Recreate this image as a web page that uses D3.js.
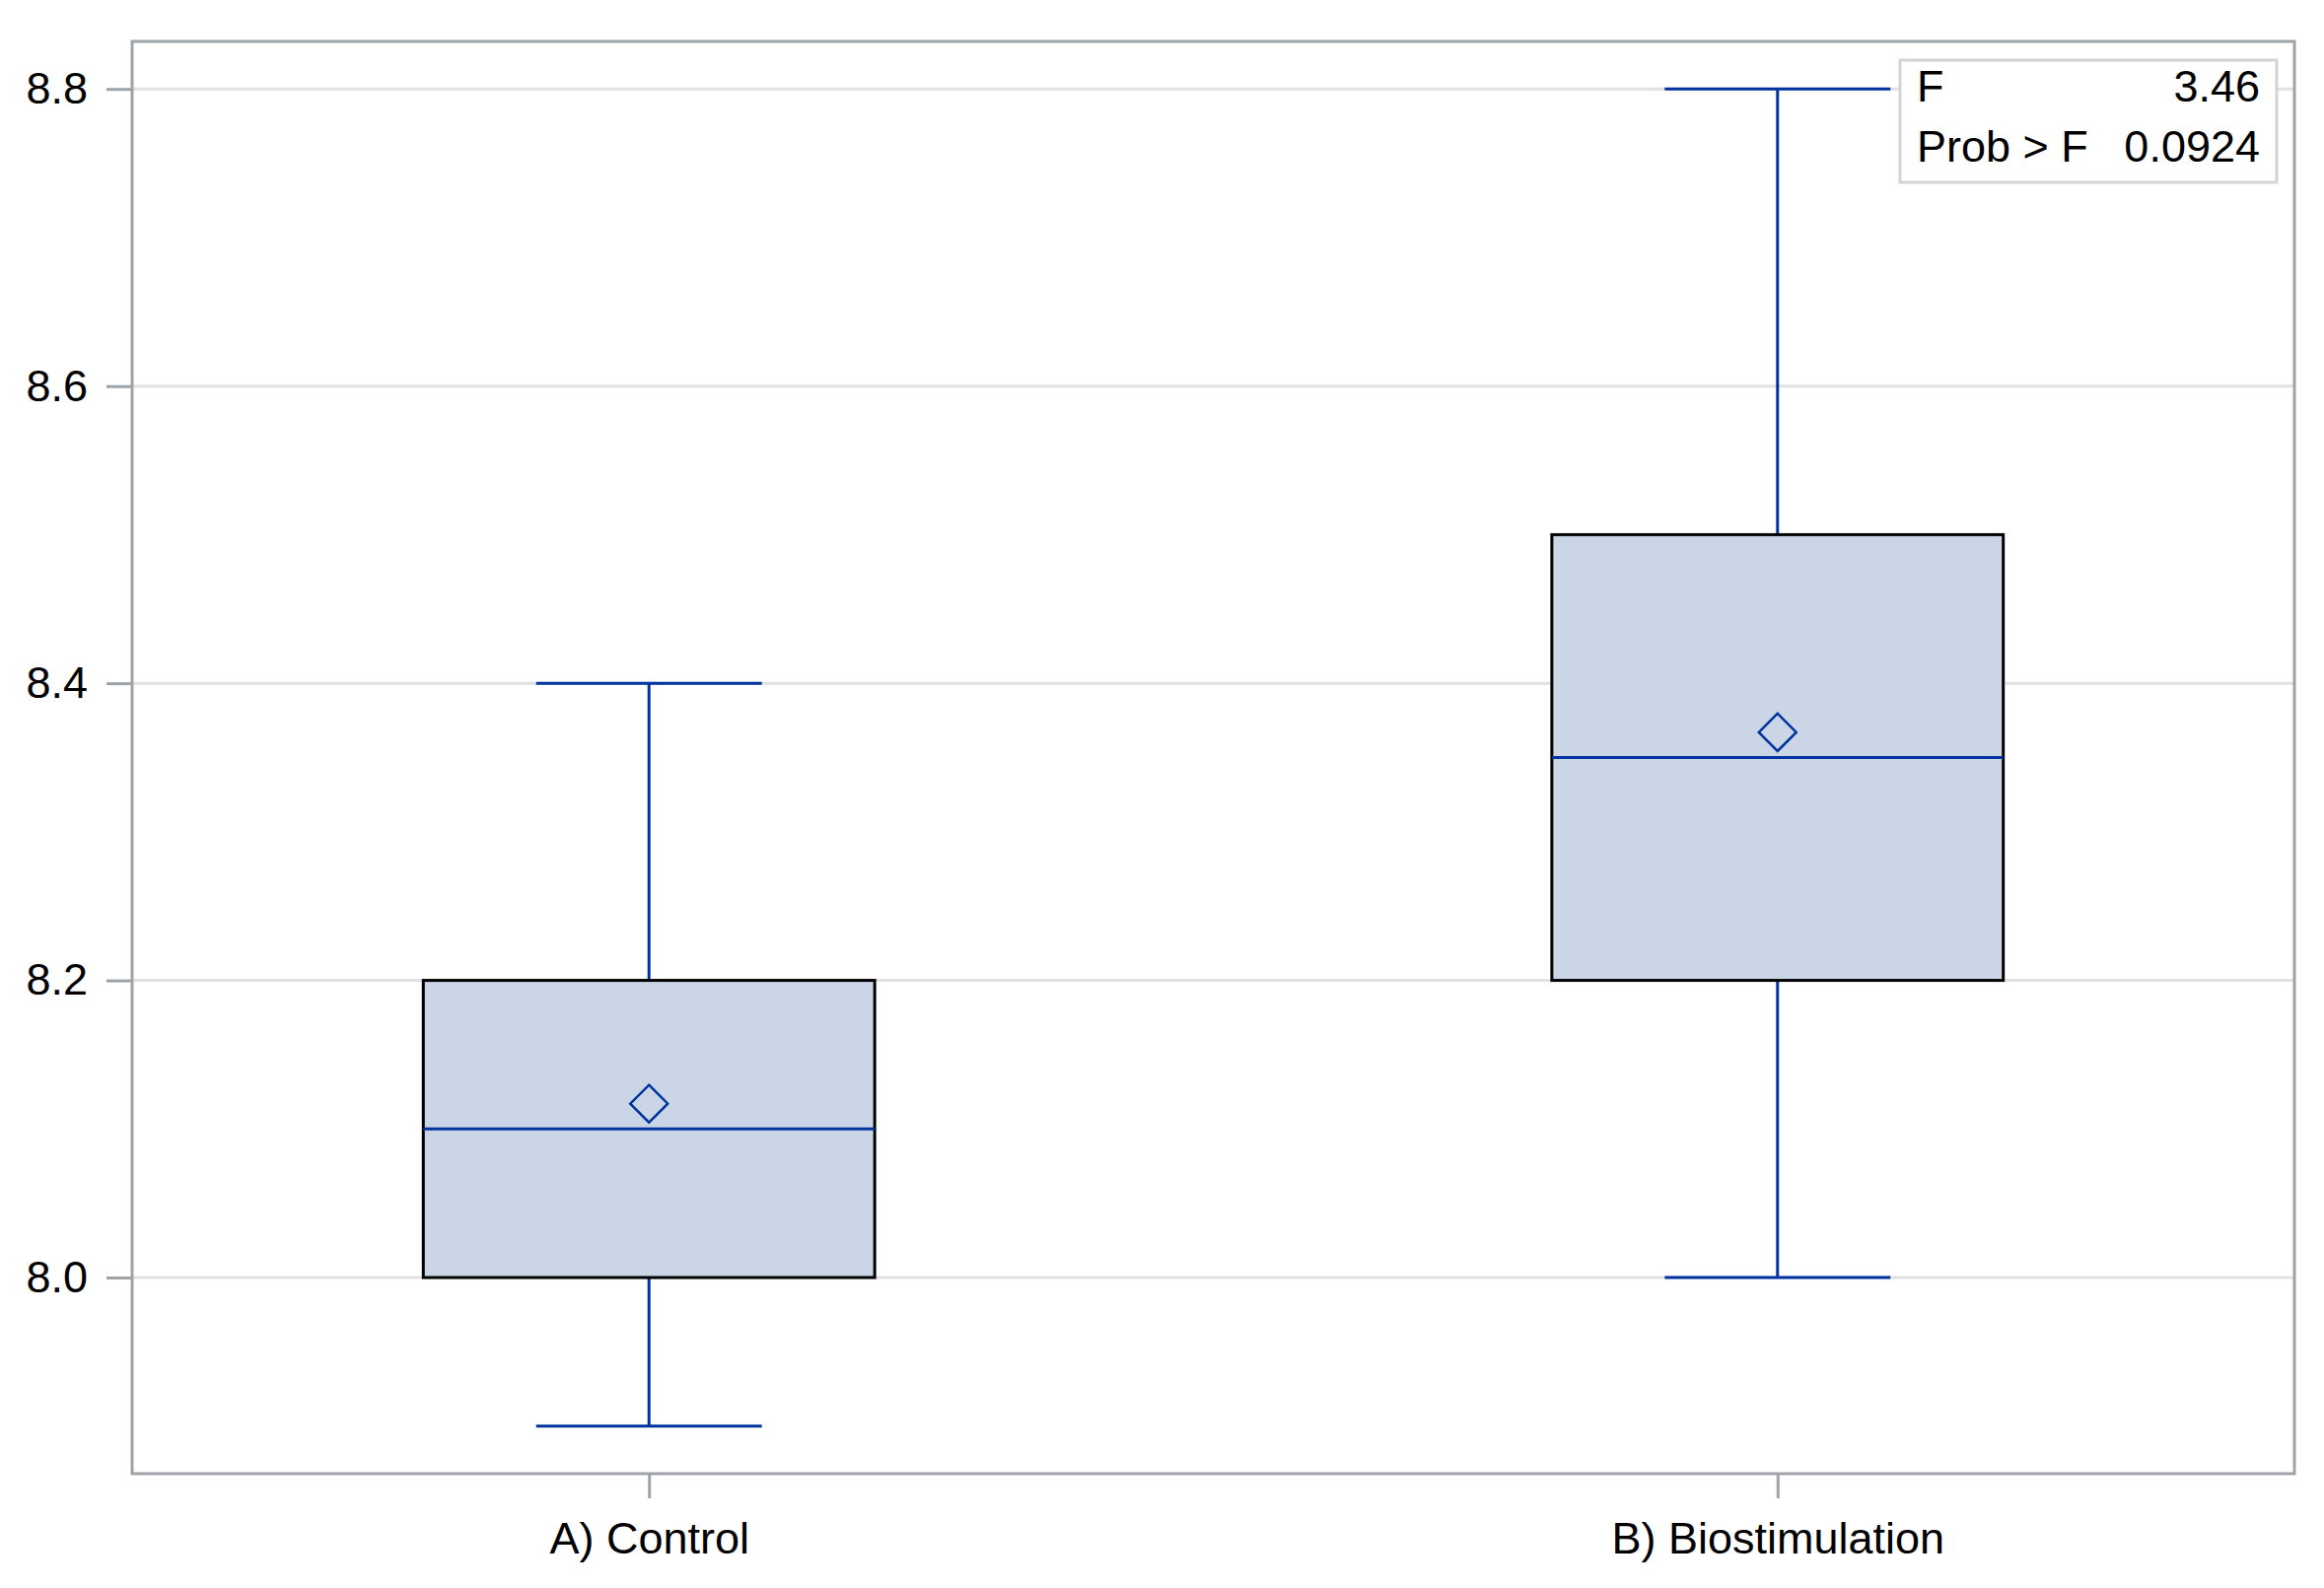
<!DOCTYPE html>
<html>
<head>
<meta charset="utf-8">
<title>box plot</title>
<script src="https://cdnjs.cloudflare.com/ajax/libs/d3/7.8.5/d3.min.js"></script>
<style>
  body { margin: 0; background: #fff; }
  text { font-family: "Liberation Sans", Arial, sans-serif; fill: #000; }
</style>
</head>
<body>
<script>
// data
var groups = ['A) Control', 'B) Biostimulation'];
var mins = [7.9, 8.0];
var q1s = [8.0, 8.2];
var medians = [8.1, 8.35];
var q3s = [8.2, 8.5];
var maxs = [8.4, 8.8];
var means = [8.117, 8.367];
var yTicks = [8.0, 8.2, 8.4, 8.6, 8.8];
var statLabels = ['F', 'Prob > F'];
var statValues = ['3.46', '0.0924'];

var W = 2357, H = 1611;
// plot frame (don't call it "top", that is window.top)
var pLeft = 134, pRight = 2327, pTop = 42, pBottom = 1495;

var svg = d3.select('body').append('svg')
  .attr('width', W)
  .attr('height', H);

var x = d3.scalePoint().domain(groups).range([pLeft, pRight]).padding(0.458);
var y = d3.scaleLinear().domain([7.868, 8.832]).range([pBottom, pTop]);
var step = x.step();

var boxes = groups.map(function(g, i) {
  return { g: g, min: mins[i], q1: q1s[i], med: medians[i], q3: q3s[i], max: maxs[i], mean: means[i] };
});

// grid lines
svg.append('g').selectAll('line')
  .data(yTicks)
  .enter().append('line')
    .attr('x1', pLeft).attr('x2', pRight)
    .attr('y1', function(d) { return y(d); })
    .attr('y2', function(d) { return y(d); })
    .attr('stroke', '#e1e1e1')
    .attr('stroke-width', 3);

// y axis
var yAxis = svg.append('g')
  .attr('transform', 'translate(' + pLeft + ',0)')
  .call(d3.axisLeft(y).tickValues(yTicks).tickFormat(d3.format('.1f')).tickSize(26).tickPadding(19));
yAxis.select('.domain').remove();
yAxis.selectAll('line').attr('stroke', '#9ea3a8').attr('stroke-width', 3);
yAxis.selectAll('text').attr('font-size', 45).attr('font-family', '"Liberation Sans", Arial, sans-serif').attr('fill', '#000');

// x axis
var xAxis = svg.append('g')
  .attr('transform', 'translate(0,' + pBottom + ')')
  .call(d3.axisBottom(x).tickSize(25).tickPadding(24));
xAxis.select('.domain').remove();
xAxis.selectAll('line').attr('stroke', '#9ea3a8').attr('stroke-width', 3);
xAxis.selectAll('text').attr('font-size', 45).attr('font-family', '"Liberation Sans", Arial, sans-serif').attr('fill', '#000');

var blue = '#0033a0';
var g = svg.selectAll('.box').data(boxes).enter().append('g').attr('class', 'box');

// whiskers
g.append('line')
  .attr('x1', function(d) { return x(d.g); }).attr('x2', function(d) { return x(d.g); })
  .attr('y1', function(d) { return y(d.min); }).attr('y2', function(d) { return y(d.max); })
  .attr('stroke', blue).attr('stroke-width', 3);
['min', 'max'].forEach(function(k) {
  g.append('line')
    .attr('x1', function(d) { return x(d.g) - step * 0.1; })
    .attr('x2', function(d) { return x(d.g) + step * 0.1; })
    .attr('y1', function(d) { return y(d[k]); })
    .attr('y2', function(d) { return y(d[k]); })
    .attr('stroke', blue).attr('stroke-width', 3);
});

// box
g.append('rect')
  .attr('x', function(d) { return x(d.g) - step * 0.2; })
  .attr('width', step * 0.4)
  .attr('y', function(d) { return y(d.q3); })
  .attr('height', function(d) { return y(d.q1) - y(d.q3); })
  .attr('fill', '#cad5e5')
  .attr('stroke', '#000')
  .attr('stroke-width', 3);

// median
g.append('line')
  .attr('x1', function(d) { return x(d.g) - step * 0.2; })
  .attr('x2', function(d) { return x(d.g) + step * 0.2; })
  .attr('y1', function(d) { return y(d.med); })
  .attr('y2', function(d) { return y(d.med); })
  .attr('stroke', blue).attr('stroke-width', 3);

// mean diamond
g.append('path')
  .attr('d', function(d) {
    var cx = x(d.g), cy = y(d.mean), r = 19;
    return 'M' + cx + ',' + (cy - r) + 'L' + (cx + r) + ',' + cy + 'L' + cx + ',' + (cy + r) + 'L' + (cx - r) + ',' + cy + 'Z';
  })
  .attr('fill', 'none')
  .attr('stroke', blue)
  .attr('stroke-width', 2.5);

// frame
svg.append('rect')
  .attr('x', pLeft).attr('y', pTop)
  .attr('width', pRight - pLeft).attr('height', pBottom - pTop)
  .attr('fill', 'none')
  .attr('stroke', '#9ea3a8')
  .attr('stroke-width', 3);

// stats inset
var inset = svg.append('g');
inset.append('rect')
  .attr('x', 1927).attr('y', 61)
  .attr('width', 382).attr('height', 124)
  .attr('fill', '#fff')
  .attr('stroke', '#d3d3d3')
  .attr('stroke-width', 3);
statLabels.forEach(function(s, i) {
  inset.append('text')
    .attr('x', 1944).attr('y', 103 + i * 61)
    .attr('font-size', 45)
    .text(s);
  inset.append('text')
    .attr('x', 2292).attr('y', 103 + i * 61)
    .attr('font-size', 45)
    .attr('text-anchor', 'end')
    .text(statValues[i]);
});
</script>
</body>
</html>
